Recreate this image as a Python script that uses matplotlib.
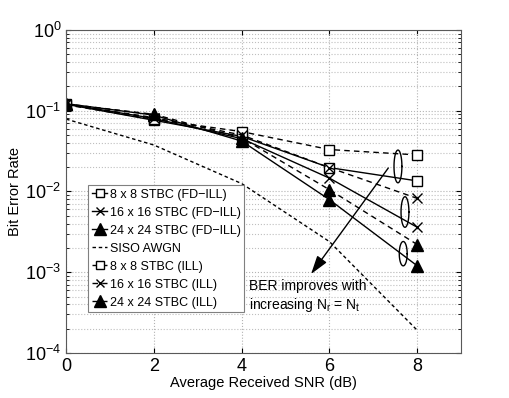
import matplotlib
matplotlib.use('Agg')
import matplotlib.pyplot as plt
import numpy as np
from matplotlib.ticker import LogLocator, NullFormatter, LogFormatterMathtext

plt.rcParams['font.family'] = ['Liberation Sans', 'DejaVu Sans']
plt.rcParams['mathtext.fontset'] = 'custom'
plt.rcParams['mathtext.rm'] = 'Liberation Sans'
plt.rcParams['mathtext.it'] = 'Liberation Sans'

snr = [0, 2, 4, 6, 8]

# FD-ILL (solid)
ber_8_fd = [0.120, 0.076, 0.048, 0.0197, 0.0135]
ber_16_fd = [0.121, 0.080, 0.045, 0.0146, 0.0036]
ber_24_fd = [0.122, 0.088, 0.042, 0.0079, 0.0012]
# ILL (dashed)
ber_8_ill = [0.118, 0.078, 0.055, 0.033, 0.0283]
ber_16_ill = [0.120, 0.082, 0.050, 0.0197, 0.0082]
ber_24_ill = [0.121, 0.090, 0.046, 0.0105, 0.0022]
# SISO AWGN
ber_awgn = [0.0786, 0.0375, 0.0125, 0.00239, 0.000191]

labels = ['8 x 8 STBC (FD\u2212ILL)', '16 x 16 STBC (FD\u2212ILL)', '24 x 24 STBC (FD\u2212ILL)',
          'SISO AWGN',
          '8 x 8 STBC (ILL)', '16 x 16 STBC (ILL)', '24 x 24 STBC (ILL)']

# ellipse groups: (center x, low y, high y)
ellipses = [(7.56, 0.0128, 0.0325), (7.72, 0.0036, 0.0086), (7.68, 0.0012, 0.0024)]

fig = plt.figure(figsize=(5.09, 3.98), dpi=100)
ax = fig.add_axes([0.130, 0.113, 0.776, 0.812])

dash_l = (0, (4, 3))
sq = dict(marker='s', mfc='white', mec='k', ms=6.5, mew=1.0)
xx = dict(marker='x', ms=7, mew=1.0)
tr = dict(marker='^', ms=9, mfc='k', mec='k')
ax.plot(snr, ber_8_fd, color='k', lw=1.0, label=labels[0], **sq)
ax.plot(snr, ber_16_fd, color='k', lw=1.0, label=labels[1], **xx)
ax.plot(snr, ber_24_fd, color='k', lw=1.0, label=labels[2], **tr)
ax.plot(snr, ber_awgn, color='k', lw=1.0, ls=(0, (2.5, 2)), label=labels[3])
ax.plot(snr, ber_8_ill, color='k', lw=1.0, ls=dash_l, label=labels[4], **sq)
ax.plot(snr, ber_16_ill, color='k', lw=1.0, ls=dash_l, label=labels[5], **xx)
ax.plot(snr, ber_24_ill, color='k', lw=1.0, ls=dash_l, label=labels[6], **tr)

# ellipses (drawn in log space)
t = np.linspace(0, 2 * np.pi, 100)
for cx, ylo, yhi in ellipses:
    lc = 0.5 * (np.log10(ylo) + np.log10(yhi))
    lr = 0.5 * (np.log10(yhi) - np.log10(ylo))
    ax.plot(cx + 0.09 * np.cos(t), 10 ** (lc + lr * np.sin(t)), color='k', lw=1.0)

ax.annotate('', xy=(5.58, 0.00095), xytext=(7.34, 0.0195),
            arrowprops=dict(arrowstyle='-|>,head_length=0.8,head_width=0.25',
                            color='k', lw=1.0, mutation_scale=14, shrinkA=0, shrinkB=0))
ax.text(4.17, 0.00082, 'BER improves with\nincreasing N$_\\mathregular{r}$ = N$_\\mathregular{t}$',
        fontsize=10, va='top', ha='left', linespacing=1.25)

ax.set_yscale('log')
ax.set_xlim(0, 9)
ax.set_ylim(1e-4, 1)
ax.set_xticks([0, 2, 4, 6, 8])
ax.yaxis.set_major_locator(LogLocator(base=10, numticks=10))
ax.yaxis.set_minor_locator(LogLocator(base=10, subs=np.arange(2, 10), numticks=10))
ax.yaxis.set_minor_formatter(NullFormatter())
ax.yaxis.set_major_formatter(LogFormatterMathtext())
ax.tick_params(which='both', direction='in', top=True, right=True, labelsize=13)
ax.tick_params(which='minor', length=2)
ax.grid(True, which='major', ls=':', color='0.7', lw=0.8)
ax.grid(True, which='minor', axis='y', ls=':', color='0.75', lw=0.8)
for s in ax.spines.values():
    s.set_color('0.35')

ax.set_xlabel('Average Received SNR (dB)', fontsize=10.5, labelpad=1)
ax.set_ylabel('Bit Error Rate', fontsize=10.5, labelpad=2)

leg = ax.legend(loc='upper left', bbox_to_anchor=(0.056, 0.52), fontsize=9,
                handlelength=1.2, handletextpad=0.2, labelspacing=0.48, borderpad=0.3,
                borderaxespad=0, fancybox=False, framealpha=1, edgecolor='0.5',
                markerscale=0.9)
leg.get_frame().set_linewidth(0.8)

fig.savefig('out.png', dpi=100)
